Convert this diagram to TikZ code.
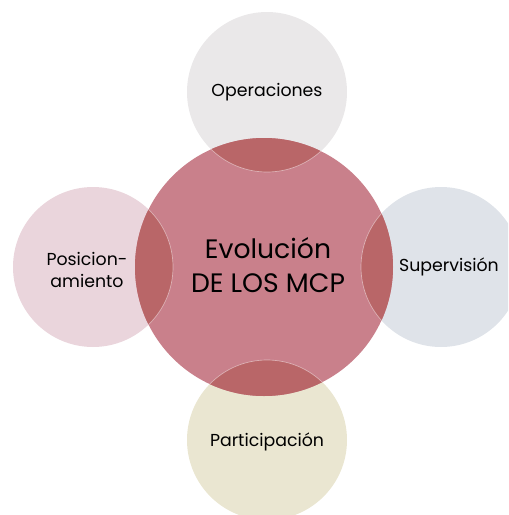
\documentclass[tikz,border=0pt]{standalone}
\usepackage{fontspec}
\setmainfont{Poppins}
\definecolor{hubred}{HTML}{C9808B}
\definecolor{overlapred}{HTML}{B96668}
\definecolor{opsgray}{HTML}{EAE8E9}
\definecolor{supblue}{HTML}{DFE3E9}
\definecolor{partbeige}{HTML}{EAE6D1}
\definecolor{posrose}{HTML}{EAD5DC}
\tikzset{
  lbl/.style={font=\fontsize{13}{16.5}\selectfont,text=black,align=center,inner sep=0pt},
  hublbl/.style={font=\fontsize{20}{25}\selectfont,text=black,align=center,inner sep=0pt}
}

\begin{document}
\begin{tikzpicture}[x=0.75pt,y=-0.75pt]
\useasboundingbox (0,0) rectangle (508,515);
\clip (0,0) rectangle (508,515);
\coordinate (H) at (264,267);
\coordinate (O) at (267,92);
\coordinate (S) at (441,267);
\coordinate (P) at (267,440);
\coordinate (A) at (93,267);
\foreach \c/\col in {O/opsgray,S/supblue,P/partbeige,A/posrose}
  \fill[\col] (\c) circle (80);
\fill[hubred] (H) circle (129);
% darker lens where the hub covers each satellite
\foreach \c in {O,S,P,A} {
  \begin{scope}
    \clip (\c) circle (80);
    \fill[overlapred] (H) circle (129);
  \end{scope}
  \begin{scope}
    \clip (H) circle (129);
    \draw[white,opacity=.45,line width=.5pt] (\c) circle (80);
  \end{scope}
}
\node[hublbl] (hub) at (268,265) {Evolución\\DE LOS MCP};
\node[lbl] (ops) at (267,92) {Operaciones};
\node[lbl] (sup) at (449,267) {Supervisión};
\node[lbl] (part) at (267,442) {Participación};
\node[lbl] (pos) at (87,270) {Posicion-\\amiento};
\end{tikzpicture}
\end{document}
